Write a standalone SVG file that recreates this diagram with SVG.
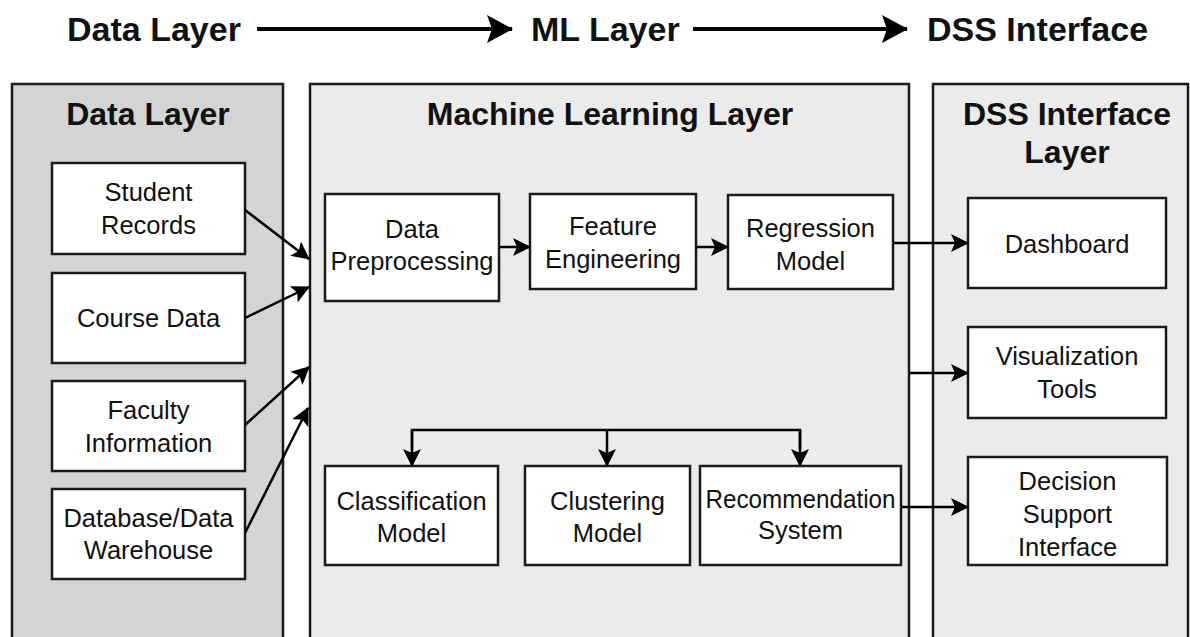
<svg xmlns="http://www.w3.org/2000/svg" width="1190" height="637" viewBox="0 0 1190 637">
<defs>
<style>
.title{font-family:"Liberation Sans",Arial,sans-serif;font-weight:bold;font-size:34px;fill:#111}
.ptitle{font-family:"Liberation Sans",Arial,sans-serif;font-weight:bold;font-size:32px;fill:#111;text-anchor:middle}
.lbl{font-family:"Liberation Sans",Arial,sans-serif;font-size:25.5px;fill:#111;text-anchor:middle}
.box{fill:#fff;stroke:#1a1a1a;stroke-width:2.5}
.panel{stroke:#1a1a1a;stroke-width:2.5}
.conn{fill:none;stroke:#000;stroke-width:2.5}
.big{fill:none;stroke:#000;stroke-width:4}
</style>
<marker id="ah" viewBox="0 0 18 18" markerWidth="18" markerHeight="18" refX="17" refY="9" orient="auto" markerUnits="userSpaceOnUse">
<path d="M0,0 L18,9 L0,18 L4,9 Z" fill="#000"/>
</marker>
<marker id="bh" viewBox="0 0 26 28" markerWidth="26" markerHeight="28" refX="25" refY="14" orient="auto" markerUnits="userSpaceOnUse">
<path d="M0,0 L26,14 L0,28 L5,14 Z" fill="#000"/>
</marker>
</defs>
<rect width="1190" height="637" fill="#fff"/>

<g id="header">
<text class="title" x="67" y="41">Data Layer</text>
<text class="title" x="531" y="41">ML Layer</text>
<text class="title" x="927" y="41">DSS Interface</text>
</g>

<g id="panels">
<g id="data-layer-panel">
<rect class="panel" x="12" y="84" width="271" height="560" fill="#d4d4d4"/>
<text class="ptitle" x="148" y="125">Data Layer</text>
</g>
<g id="ml-layer-panel">
<rect class="panel" x="310" y="84" width="599" height="560" fill="#ebebeb"/>
<text class="ptitle" x="610" y="125">Machine Learning Layer</text>
</g>
<g id="dss-layer-panel">
<rect class="panel" x="933" y="84" width="255" height="560" fill="#ebebeb"/>
<text class="ptitle" x="1067" y="125">DSS Interface</text>
<text class="ptitle" x="1067" y="163">Layer</text>
</g>
</g>

<g id="student-records">
<rect class="box" x="52" y="163" width="193" height="91"/>
<text class="lbl" x="148.5" y="201">Student</text>
<text class="lbl" x="148.5" y="234">Records</text>
</g>
<g id="course-data">
<rect class="box" x="52" y="273" width="193" height="90"/>
<text class="lbl" x="148.5" y="327">Course Data</text>
</g>
<g id="faculty-information">
<rect class="box" x="52" y="381" width="193" height="90"/>
<text class="lbl" x="148.5" y="419">Faculty</text>
<text class="lbl" x="148.5" y="452">Information</text>
</g>
<g id="database-warehouse">
<rect class="box" x="52" y="489" width="193" height="90"/>
<text class="lbl" x="148.5" y="527">Database/Data</text>
<text class="lbl" x="148.5" y="559">Warehouse</text>
</g>

<g id="data-preprocessing">
<rect class="box" x="325" y="194" width="174" height="107"/>
<text class="lbl" x="412" y="238">Data</text>
<text class="lbl" x="412" y="270">Preprocessing</text>
</g>
<g id="feature-engineering">
<rect class="box" x="530" y="194" width="166" height="95"/>
<text class="lbl" x="613" y="235">Feature</text>
<text class="lbl" x="613" y="268">Engineering</text>
</g>
<g id="regression-model">
<rect class="box" x="728" y="195" width="165" height="94"/>
<text class="lbl" x="810.5" y="237">Regression</text>
<text class="lbl" x="810.5" y="270">Model</text>
</g>
<g id="classification-model">
<rect class="box" x="325" y="466" width="173" height="99"/>
<text class="lbl" x="411.5" y="510">Classification</text>
<text class="lbl" x="411.5" y="542">Model</text>
</g>
<g id="clustering-model">
<rect class="box" x="525" y="466" width="165" height="99"/>
<text class="lbl" x="607.5" y="510">Clustering</text>
<text class="lbl" x="607.5" y="542">Model</text>
</g>
<g id="recommendation-system">
<rect class="box" x="700" y="466" width="201" height="99"/>
<text class="lbl" x="800.5" y="508" textLength="190" lengthAdjust="spacingAndGlyphs">Recommendation</text>
<text class="lbl" x="800.5" y="539">System</text>
</g>

<g id="dashboard">
<rect class="box" x="968" y="198" width="198" height="90"/>
<text class="lbl" x="1067" y="253">Dashboard</text>
</g>
<g id="visualization-tools">
<rect class="box" x="968" y="327" width="198" height="91"/>
<text class="lbl" x="1067" y="365">Visualization</text>
<text class="lbl" x="1067" y="398">Tools</text>
</g>
<g id="decision-support-interface">
<rect class="box" x="968" y="457" width="199" height="108"/>
<text class="lbl" x="1067.5" y="490">Decision</text>
<text class="lbl" x="1067.5" y="523">Support</text>
<text class="lbl" x="1067.5" y="556">Interface</text>
</g>

<g id="connectors">
<line class="big" x1="257" y1="29" x2="512" y2="29" marker-end="url(#bh)"/>
<line class="big" x1="693" y1="29" x2="907" y2="29" marker-end="url(#bh)"/>
<line class="conn" x1="245" y1="210" x2="309" y2="259" marker-end="url(#ah)"/>
<line class="conn" x1="245" y1="318" x2="309" y2="287" marker-end="url(#ah)"/>
<line class="conn" x1="245" y1="425" x2="309" y2="367" marker-end="url(#ah)"/>
<line class="conn" x1="245" y1="533" x2="308" y2="408" marker-end="url(#ah)"/>
<line class="conn" x1="499" y1="247" x2="530" y2="247" marker-end="url(#ah)"/>
<line class="conn" x1="696" y1="247" x2="728" y2="247" marker-end="url(#ah)"/>
<line class="conn" x1="893" y1="243" x2="968" y2="243" marker-end="url(#ah)"/>
<line class="conn" x1="909" y1="373" x2="968" y2="373" marker-end="url(#ah)"/>
<line class="conn" x1="901" y1="507" x2="968" y2="507" marker-end="url(#ah)"/>
<polyline class="conn" points="412,450 412,430 800,430 800,450"/>
<line class="conn" x1="412" y1="430" x2="412" y2="466" marker-end="url(#ah)"/>
<line class="conn" x1="607" y1="430" x2="607" y2="466" marker-end="url(#ah)"/>
<line class="conn" x1="800" y1="430" x2="800" y2="466" marker-end="url(#ah)"/>
</g>
</svg>
